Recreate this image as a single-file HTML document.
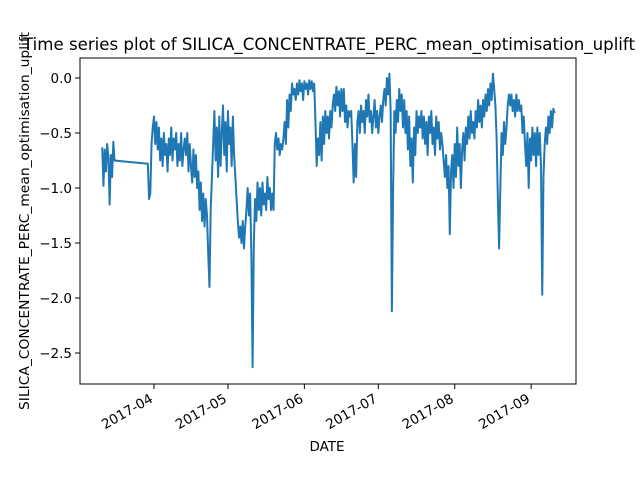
<!DOCTYPE html>
<html><head><meta charset="utf-8"><style>
body{margin:0;background:#fff}
svg{display:block;font-family:"DejaVu Sans","Liberation Sans",sans-serif}
</style></head><body>
<svg id="chart" width="640" height="480">
<rect width="640" height="480" fill="#fff"/>
<text x="329" y="50" font-size="16.5" text-anchor="middle" textLength="612" lengthAdjust="spacingAndGlyphs">Time series plot of SILICA_CONCENTRATE_PERC_mean_optimisation_uplift</text>
<text transform="translate(29,221) rotate(-90)" font-size="13.5" text-anchor="middle" textLength="378" lengthAdjust="spacingAndGlyphs">SILICA_CONCENTRATE_PERC_mean_optimisation_uplift</text>
<text x="327" y="451" font-size="13.5" text-anchor="middle">DATE</text>
<g id="marks"></g>
<g id="axes"></g>
<rect x="80" y="58" width="496" height="326" fill="none" stroke="#000" stroke-width="1"/>
</svg>
<script>
const yTicks=[0,-0.5,-1.0,-1.5,-2.0,-2.5];
const yTickLabels=["0.0","−0.5","−1.0","−1.5","−2.0","−2.5"];
const xTicks=[0,30,61,91,122,153];
const xTickLabels=["2017-04","2017-05","2017-06","2017-07","2017-08","2017-09"];
const dayStart=-21;
const dayStep=0.5;
const values=[
-0.63,-0.98,-0.65,-0.85,-0.6,-0.72,-1.15,-0.7,-0.9,-0.58,-0.75,
null,null,null,null,null,null,null,null,null,null,null,null,null,null,null,null,null,null,null,null,null,null,null,null,null,null,
-0.78,-1.1,-1.05,-0.6,-0.45,
-0.35,-0.6,-0.4,-0.65,-0.45,-0.75,-0.55,-0.8,-0.5,-0.7,-0.6,-0.85,-0.55,-0.7,-0.45,-0.75,-0.55,-0.65,-0.5,-0.8,-0.6,-0.75,-0.5,-0.8,-0.65,-0.55,-0.7,-0.5,-0.85,-0.6,
-0.8,-0.95,-0.65,-0.9,-0.7,-1.0,-0.85,-1.2,-0.95,-1.3,-1.05,-1.35,-1.1,-1.25,-1.6,-1.9,-1.2,-0.9,-0.6,-0.3,-0.75,-0.45,-0.9,-0.35,-0.8,-0.5,-0.25,-0.7,
-0.4,-0.85,-0.3,-0.6,-0.45,-0.8,-0.35,-0.7,-0.9,-1.1,-1.3,-1.45,-1.35,-1.5,-1.3,-1.55,-1.35,-1.2,-1.0,-1.25,-1.05,-1.6,-2.63,-1.5,-1.1,-1.3,-0.95,-1.2,-1.0,-1.25,-0.95,-1.15,-1.05,-1.2,-0.9,-1.1,-1.0,-1.2,-1.05,-1.2,
-0.6,-0.5,-0.65,-0.55,-0.7,-0.6,-0.65,-0.55,-0.4,-0.6,-0.2,-0.45,-0.15,-0.3,-0.05,-0.15,-0.1,-0.2,-0.05,-0.15,-0.02,-0.12,-0.05,-0.2,-0.03,-0.1,-0.05,-0.15,-0.02,-0.1,-0.03,-0.12,-0.05,-0.4,-0.8,-0.55,-0.7,-0.4,-0.75,-0.35,-0.6,-0.3,-0.5,-0.35,-0.55,-0.3,-0.45,-0.25,
-0.15,-0.3,-0.08,-0.25,-0.12,-0.35,-0.1,-0.3,-0.1,-0.4,-0.25,-0.45,-0.3,-0.35,-0.3,-0.6,-0.95,-0.6,-0.9,-0.4,-0.3,-0.5,-0.25,-0.4,-0.3,-0.5,-0.2,-0.35,-0.15,-0.4,-0.3,-0.5,-0.35,-0.2,-0.45,-0.3,-0.5,-0.35,-0.25,-0.4,-0.2,-0.1,-0.25,0.0,-0.15,0.04,-0.3,-2.12,-1.0,-0.3,-0.5,-0.2,-0.4,-0.1,-0.3,-0.15,-0.45,-0.2,
-0.5,-0.3,-0.65,-0.35,-0.8,-0.55,-0.95,-0.45,-0.7,-0.3,-0.5,-0.35,-0.45,-0.3,-0.55,-0.35,-0.6,-0.4,-0.7,-0.35,-0.5,-0.3,-0.6,-0.45,-0.7,-0.35,-0.55,-0.4,-0.65,-0.5,-0.6,-0.75,-0.9,-0.7,-1.0,-0.8,-1.42,-0.85,-0.7,-1.0,-0.6,-0.9,-0.45,-0.8,-0.6,-1.0,-0.65,-0.5,-0.75,-0.45,-0.6,-0.35,-0.55,-0.3,-0.5,-0.4,-0.55,-0.3,-0.45,-0.2,-0.4,-0.25,-0.45,-0.2,-0.35,-0.15,-0.3,-0.1,-0.25,-0.05,-0.2,0.04,-0.1,-0.25,-0.55,-1.1,-1.55,-1.0,-0.5,-0.7,-0.4,-0.6,-0.45,-0.25,-0.15,-0.25,-0.15,-0.3,-0.2,-0.35,-0.15,-0.3,-0.2,-0.3,-0.25,-0.5,-0.35,-0.6,-0.8,-0.5,-1.0,-0.55,-0.75,-0.45,-0.7,-0.5,-0.8,-0.45,-0.7,-0.5,-0.8,-1.97,-0.9,-0.6,-0.45,-0.6,-0.35,-0.5,-0.3,-0.45,-0.28,-0.32
];
const NS="http://www.w3.org/2000/svg";
function xScale(d){return 154+d*2.465;}
function yScale(v){return 78-v*110;}
const marks=document.getElementById('marks');
const axes=document.getElementById('axes');
let pts=[];
values.forEach((v,i)=>{if(v!==null){pts.push(xScale(dayStart+i*dayStep).toFixed(2)+","+yScale(v).toFixed(2));}});
const line=document.createElementNS(NS,'polyline');
line.setAttribute('points',pts.join(' '));
line.setAttribute('fill','none');
line.setAttribute('stroke','#1f77b4');
line.setAttribute('stroke-width','2');
line.setAttribute('stroke-linejoin','round');


marks.appendChild(line);
yTicks.forEach((t,i)=>{
  const y=yScale(t);
  const tk=document.createElementNS(NS,'line');
  tk.setAttribute('x1',75);tk.setAttribute('x2',80);tk.setAttribute('y1',y);tk.setAttribute('y2',y);tk.setAttribute('stroke','#000');
  
  
  axes.appendChild(tk);
  const tx=document.createElementNS(NS,'text');
  tx.setAttribute('x',72);tx.setAttribute('y',y+5);tx.setAttribute('font-size','13.5');tx.setAttribute('text-anchor','end');
  tx.textContent=yTickLabels[i];
  
  
  axes.appendChild(tx);
});
xTicks.forEach((t,i)=>{
  const x=xScale(t);
  const tk=document.createElementNS(NS,'line');
  tk.setAttribute('x1',x);tk.setAttribute('x2',x);tk.setAttribute('y1',384);tk.setAttribute('y2',389);tk.setAttribute('stroke','#000');
  
  
  axes.appendChild(tk);
  const tx=document.createElementNS(NS,'text');
  tx.setAttribute('transform','translate('+(x-5)+',393) rotate(-30)');
  tx.setAttribute('font-size','13.5');tx.setAttribute('text-anchor','end');tx.setAttribute('dominant-baseline','hanging');
  tx.textContent=xTickLabels[i];
  
  
  axes.appendChild(tx);
});
</script>
</body></html>
